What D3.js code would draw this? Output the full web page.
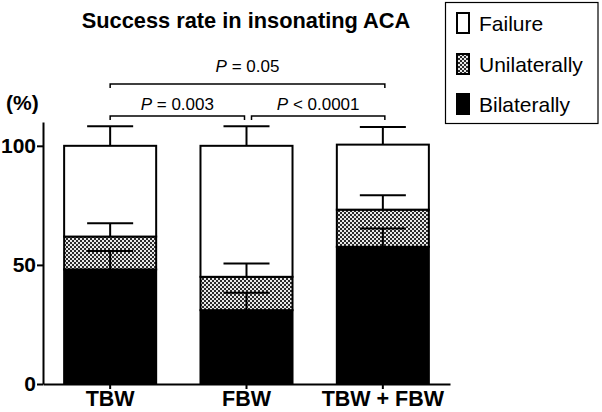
<!DOCTYPE html>
<html>
<head>
<meta charset="utf-8">
<script src="https://cdn.jsdelivr.net/npm/d3@7"></script>
<style>
  html, body { margin: 0; padding: 0; background: #fff; }
  svg { display: block; font-family: "Liberation Sans", Arial, Helvetica, sans-serif; }
</style>
</head>
<body>
<svg id="chart" width="602" height="412"></svg>
<script>
// ---------------- data ----------------
const categories = ["TBW", "FBW", "TBW + FBW"];
const bilateral = [48.1, 31.0, 57.6];
const unilateral = [13.8, 14.0, 15.6];
const failure = [38.1, 55.0, 27.3];
const bilateralErr = [7.7, 7.3, 7.7];
const unilateralErr = [5.6, 5.6, 6.0];
const failureErr = [8.2, 8.2, 7.4];
const seriesNames = ["Bilaterally", "Unilaterally", "Failure"];
const legendOrder = ["Failure", "Unilaterally", "Bilaterally"];
const yTicks = [0, 50, 100];
const comparisons = [
  { from: "TBW", to: "TBW + FBW", op: " = ", p: "0.05" },
  { from: "TBW", to: "FBW", op: " = ", p: "0.003" },
  { from: "FBW", to: "TBW + FBW", op: " < ", p: "0.0001" }
];
const titleText = "Success rate in insonating ACA";

// ---------------- setup ----------------
const svg = d3.select("#chart");
svg.append("rect").attr("width", 602).attr("height", 412).attr("fill", "#fff");

const defs = svg.append("defs");
const pat = defs.append("pattern").attr("id", "checker")
  .attr("patternUnits", "userSpaceOnUse").attr("width", 4).attr("height", 4);
pat.append("rect").attr("width", 4).attr("height", 4).attr("fill", "#e8e8e8");
pat.append("rect").attr("x", 0).attr("y", 0).attr("width", 2).attr("height", 2).attr("fill", "#2a2a2a");
pat.append("rect").attr("x", 2).attr("y", 2).attr("width", 2).attr("height", 2).attr("fill", "#2a2a2a");

const fills = { "Bilaterally": "#000", "Unilaterally": "url(#checker)", "Failure": "#fff" };

const x = d3.scaleBand().domain(categories).range([43, 450])
  .paddingInner(0.325).paddingOuter(0.155);
const y = d3.scaleLinear().domain([0, 110]).range([384, 122]);

const rows = categories.map((c, i) => ({
  cat: c,
  "Bilaterally": bilateral[i],
  "Unilaterally": unilateral[i],
  "Failure": failure[i]
}));
const errs = { "Bilaterally": bilateralErr, "Unilaterally": unilateralErr, "Failure": failureErr };
const stacked = d3.stack().keys(seriesNames)(rows);

// ---------------- bars ----------------
const gBars = svg.append("g");
stacked.forEach(s => {
  gBars.selectAll(null).data(s).enter().append("rect")
    .attr("x", d => x(d.data.cat))
    .attr("width", x.bandwidth())
    .attr("y", d => y(d[1]))
    .attr("height", d => y(d[0]) - y(d[1]))
    .attr("fill", fills[s.key])
    .attr("stroke", "#000")
    .attr("stroke-width", 2);
});

// ---------------- error bars ----------------
const gErr = svg.append("g").attr("stroke", "#000").attr("stroke-width", 2);
const capHalf = x.bandwidth() / 4;
stacked.forEach(s => {
  s.forEach((d, i) => {
    const cx = x(d.data.cat) + x.bandwidth() / 2;
    const top = d[1] + errs[s.key][i];
    gErr.append("line").attr("x1", cx).attr("x2", cx)
      .attr("y1", y(d[1])).attr("y2", y(top));
    gErr.append("line").attr("x1", cx - capHalf).attr("x2", cx + capHalf)
      .attr("y1", y(top)).attr("y2", y(top));
  });
});

// ---------------- axes ----------------
const yAxis = d3.axisLeft(y).tickValues(yTicks).tickSize(6).tickSizeOuter(0).tickPadding(1);
const gy = svg.append("g").attr("transform", "translate(43,0)").call(yAxis);
gy.select(".domain").attr("stroke-width", 2);
gy.selectAll(".tick line").attr("stroke-width", 2);
gy.selectAll(".tick text").attr("font-size", 21).attr("font-weight", "bold")
  .attr("font-family", "Liberation Sans, Arial, sans-serif").attr("fill", "#000");

const xAxis = d3.axisBottom(x).tickSize(5).tickSizeOuter(0).tickPadding(2);
const gx = svg.append("g").attr("transform", "translate(0,384)").call(xAxis);
gx.select(".domain").attr("stroke-width", 2);
gx.selectAll(".tick line").attr("stroke-width", 2);
gx.selectAll(".tick text").attr("font-size", 21.5).attr("font-weight", "bold")
  .attr("font-family", "Liberation Sans, Arial, sans-serif").attr("fill", "#000");

// y unit label
svg.append("text").attr("x", 6).attr("y", 110)
  .attr("font-size", 21).attr("font-weight", "bold").text("(%)");

// ---------------- title ----------------
svg.append("text").attr("x", 246).attr("y", 28).attr("text-anchor", "middle")
  .attr("font-size", 21.8).attr("font-weight", "bold").text(titleText);

// ---------------- brackets ----------------
const bracketLevels = [{ y: 84, labelY: 72 }, { y: 116, labelY: 110 }, { y: 116, labelY: 110 }];
const gBr = svg.append("g");
comparisons.forEach((c, i) => {
  const lv = bracketLevels[i];
  let x1 = x(c.from) + x.bandwidth() / 2;
  let x2 = x(c.to) + x.bandwidth() / 2;
  if (i === 1) x2 -= 2;
  if (i === 2) x1 += 5;
  if (i !== 1) x2 += 2;
  gBr.append("path")
    .attr("d", `M${x1},${lv.y + 4}V${lv.y}H${x2}V${lv.y + 4}`)
    .attr("fill", "none").attr("stroke", "#000").attr("stroke-width", 1.5);
  const t = gBr.append("text").attr("x", (x1 + x2) / 2).attr("y", lv.labelY)
    .attr("text-anchor", "middle").attr("font-size", 17);
  t.append("tspan").attr("font-style", "italic").text("P");
  t.append("tspan").text(c.op + c.p);
});

// ---------------- legend ----------------
const gL = svg.append("g");
gL.append("rect").attr("x", 445.5).attr("y", 2.5).attr("width", 152.5).attr("height", 121)
  .attr("fill", "#fff").attr("stroke", "#000").attr("stroke-width", 1.2);
const legendY = [23, 64, 104];
legendOrder.forEach((k, i) => {
  gL.append("rect").attr("x", 457).attr("y", legendY[i] - 10).attr("width", 12).attr("height", 20)
    .attr("fill", fills[k]).attr("stroke", "#000").attr("stroke-width", 2);
  gL.append("text").attr("x", 479).attr("y", legendY[i]).attr("dy", "0.36em")
    .attr("font-size", 21).text(k);
});
</script>
</body>
</html>
